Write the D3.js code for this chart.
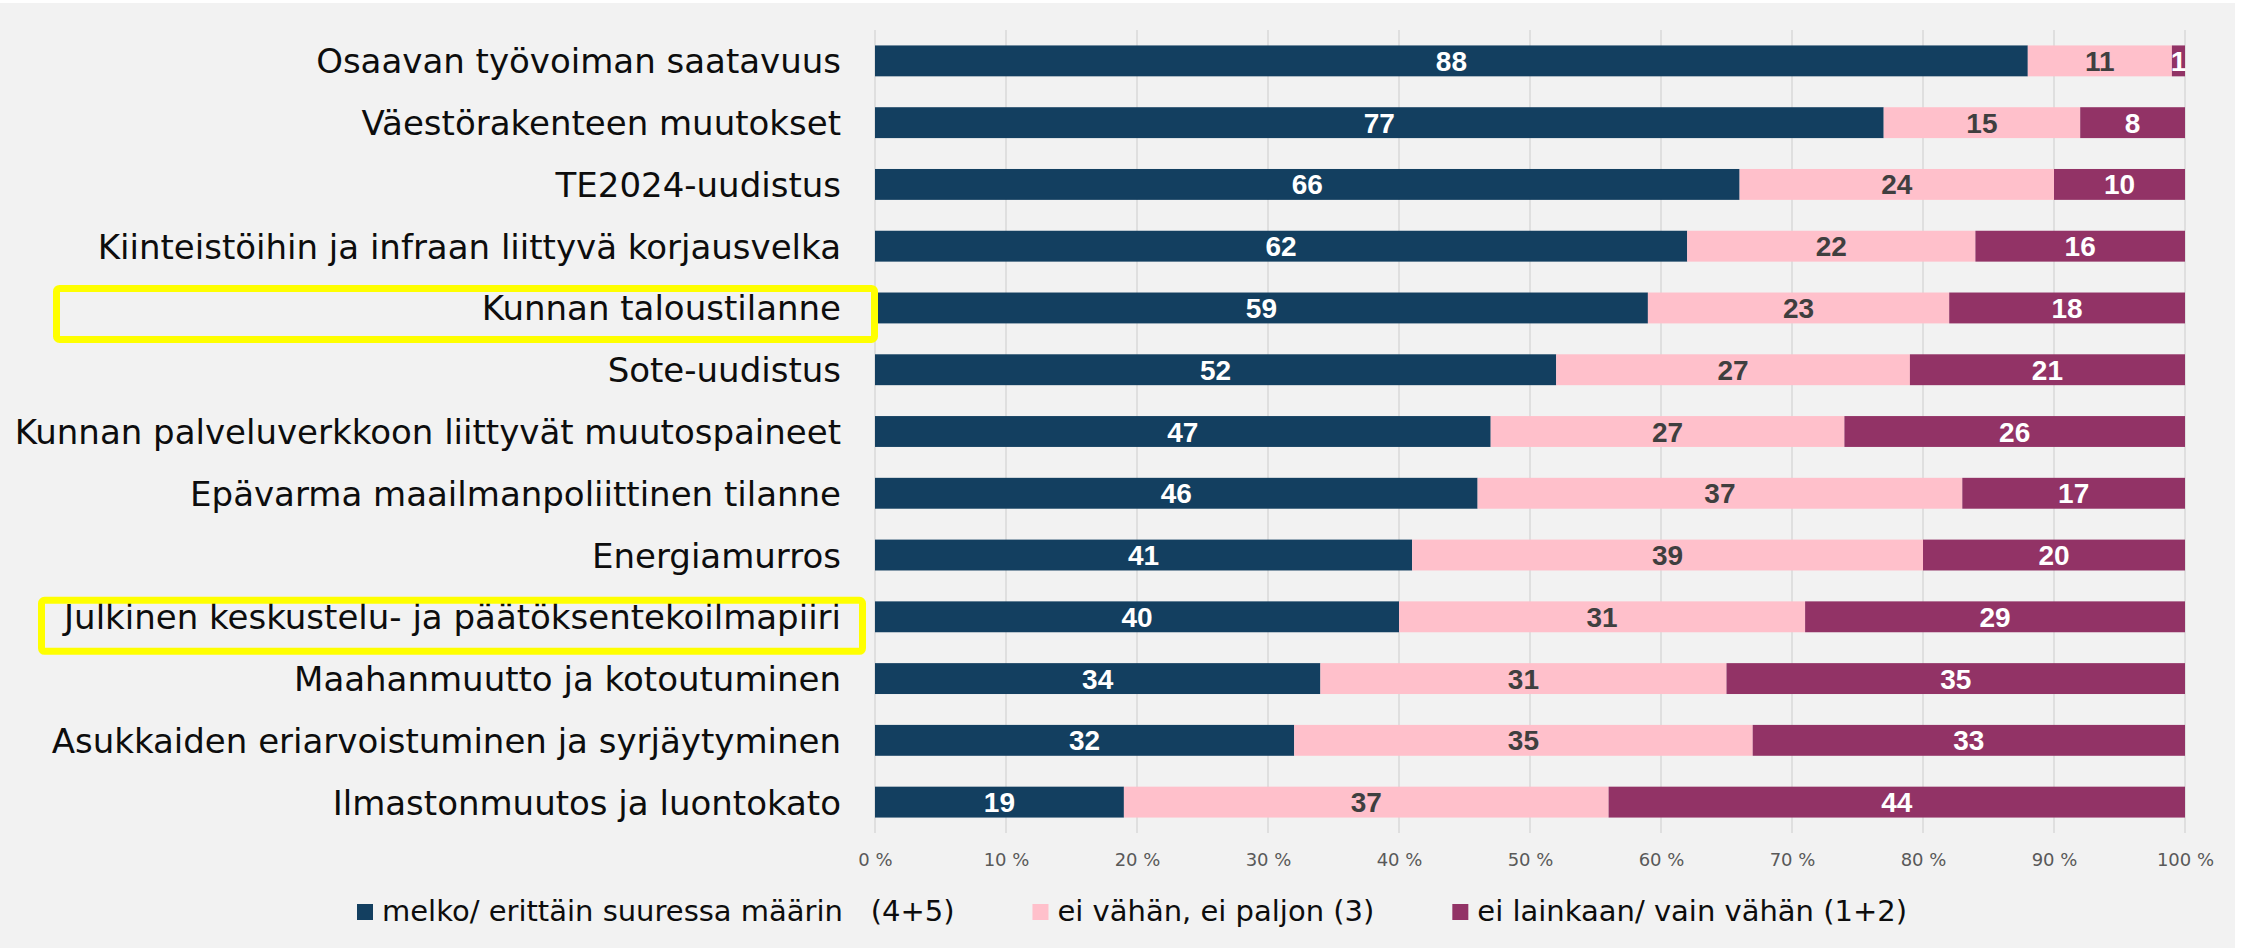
<!DOCTYPE html>
<html>
<head>
<meta charset="utf-8">
<script src="https://cdn.jsdelivr.net/npm/d3@7"></script>
<style>
  html, body { margin: 0; padding: 0; background: #ffffff; }
  svg { display: block; }
  text { white-space: pre; }
</style>
</head>
<body>
<svg id="chart" width="2241" height="948"></svg>
<script>
// ---- data ----
const categories = [
  "Osaavan työvoiman saatavuus",
  "Väestörakenteen muutokset",
  "TE2024-uudistus",
  "Kiinteistöihin ja infraan liittyvä korjausvelka",
  "Kunnan taloustilanne",
  "Sote-uudistus",
  "Kunnan palveluverkkoon liittyvät muutospaineet",
  "Epävarma maailmanpoliittinen tilanne",
  "Energiamurros",
  "Julkinen keskustelu- ja päätöksentekoilmapiiri",
  "Maahanmuutto ja kotoutuminen",
  "Asukkaiden eriarvoistuminen ja syrjäytyminen",
  "Ilmastonmuutos ja luontokato"
];
const seriesNames = [
  "melko/ erittäin suuressa määrin   (4+5)",
  "ei vähän, ei paljon (3)",
  "ei lainkaan/ vain vähän (1+2)"
];
const high = [88, 77, 66, 62, 59, 52, 47, 46, 41, 40, 34, 32, 19];
const mid  = [11, 15, 24, 22, 23, 27, 27, 37, 39, 31, 31, 35, 37];
const low  = [ 1,  8, 10, 16, 18, 21, 26, 17, 20, 29, 35, 33, 44];
const tickValues = [0, 10, 20, 30, 40, 50, 60, 70, 80, 90, 100];
const highlighted = ["Kunnan taloustilanne", "Julkinen keskustelu- ja päätöksentekoilmapiiri"];

// ---- styles ----
const colors = ["#133f60", "#ffc0cb", "#923366"];
const valueColors = ["#ffffff", "#3f3f3f", "#ffffff"];
const labelFont = "'DejaVu Sans', sans-serif";
const valueFont = "'Liberation Sans', Arial, sans-serif";

const svg = d3.select("#chart");
svg.append("rect").attr("x", 0).attr("y", 3).attr("width", 2235).attr("height", 945).attr("fill", "#f2f2f2");

const x = d3.scaleLinear().domain([0, 100]).range([875, 2185]);
const y = d3.scaleBand().domain(categories).range([30, 833]).paddingInner(0.5).paddingOuter(0.25);
const plotTop = 30, plotBottom = 833;

// gridlines
svg.append("g").selectAll("line").data(tickValues).join("line")
  .attr("x1", d => x(d)).attr("x2", d => x(d))
  .attr("y1", plotTop).attr("y2", plotBottom)
  .attr("stroke", "#d9d9d9").attr("stroke-width", 1.5);

// tick labels via axis
const axis = d3.axisBottom(x).tickValues(tickValues).tickSize(0).tickPadding(0).tickFormat(d => d + " %");
const ax = svg.append("g").attr("transform", `translate(0, 853)`).call(axis);
ax.select(".domain").remove();
ax.selectAll("text").attr("font-family", labelFont).attr("font-size", 18).attr("fill", "#595959").attr("dy", "0.71em");

// stacked data
const rows = categories.map((c, i) => ({ cat: c, v: [high[i], mid[i], low[i]] }));
const segs = [];
rows.forEach(r => {
  let acc = 0;
  r.v.forEach((v, k) => { segs.push({ cat: r.cat, k, v, x0: acc, x1: acc + v }); acc += v; });
});

const g = svg.append("g");
g.selectAll("rect").data(segs).join("rect")
  .attr("x", d => x(d.x0))
  .attr("width", d => x(d.x1) - x(d.x0))
  .attr("y", d => y(d.cat))
  .attr("height", y.bandwidth())
  .attr("fill", d => colors[d.k]);

g.selectAll("text").data(segs).join("text")
  .attr("x", d => (x(d.x0) + x(d.x1)) / 2)
  .attr("y", d => y(d.cat) + y.bandwidth() / 2 + 10)
  .attr("text-anchor", "middle")
  .attr("font-family", valueFont).attr("font-weight", "bold").attr("font-size", 28)
  .attr("fill", d => valueColors[d.k])
  .text(d => d.v);

// category labels
svg.append("g").selectAll("text").data(categories).join("text")
  .attr("x", 841)
  .attr("y", d => y(d) + y.bandwidth() / 2 + 12.5)
  .attr("text-anchor", "end")
  .attr("font-family", labelFont).attr("font-size", 34).attr("fill", "#0d0d0d")
  .text(d => d);

// highlight boxes (annotation)
const boxX = { "Kunnan taloustilanne": [56.5, 874.5], "Julkinen keskustelu- ja päätöksentekoilmapiiri": [41.5, 862.5] };
svg.append("g").selectAll("rect").data(highlighted).join("rect")
  .attr("x", d => boxX[d][0])
  .attr("width", d => boxX[d][1] - boxX[d][0])
  .attr("y", (d, i) => y(d) + y.bandwidth() / 2 - 19.5 + (i ? 3 : 0))
  .attr("height", 51)
  .attr("rx", 3)
  .attr("fill", "none").attr("stroke", "#ffff00").attr("stroke-width", 7);

// legend
const leg = svg.append("g");
let lx = 357;
seriesNames.forEach((name, k) => {
  leg.append("rect").attr("x", lx).attr("y", 904).attr("width", 16).attr("height", 16).attr("fill", colors[k]);
  const t = leg.append("text").attr("x", lx + 25).attr("y", 921)
    .attr("font-family", labelFont).attr("font-size", 29).attr("fill", "#0d0d0d")
    .text(name);
  const w = t.node().getComputedTextLength();
  lx = lx + 25 + w + 78;
});
</script>
</body>
</html>
